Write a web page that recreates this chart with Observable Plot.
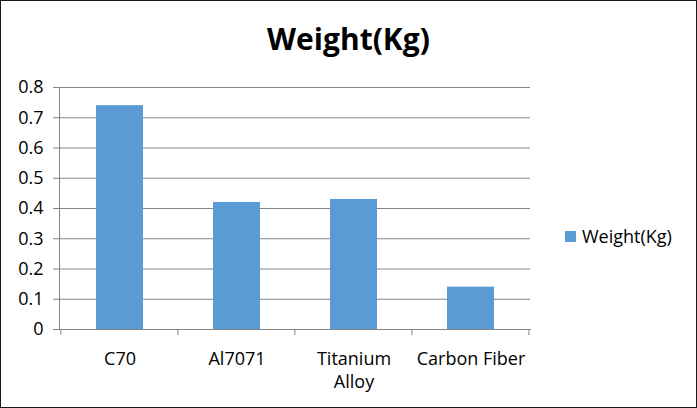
<!DOCTYPE html>
<html>
<head>
<meta charset="utf-8">
<script src="https://cdn.jsdelivr.net/npm/d3@7"></script>
<script src="https://cdn.jsdelivr.net/npm/@observablehq/plot@0.6"></script>
<style>
  html, body { margin: 0; padding: 0; background: #fff; }
  #wrap { position: relative; width: 697px; height: 408px; overflow: hidden; background: #fff; font-family: "Open Sans", sans-serif; }
  #border { position: absolute; left: 0; top: 0; width: 697px; height: 408px; box-sizing: border-box; border: 1px solid #1a1a1a; pointer-events: none; }
  #title { position: absolute; left: 0; width: 697px; top: 19px; text-align: center; font-weight: bold; font-size: 30px; line-height: 40px; color: #000; }
  #legend { position: absolute; left: 565px; top: 224px; font-size: 18px; line-height: 24px; color: #000; display: flex; align-items: center; }
  #legend .sw { display: inline-block; width: 11px; height: 11px; background: #5B9BD5; margin-right: 6px; }
  #chart { position: absolute; left: 0; top: 0; }
</style>
</head>
<body>
<div id="wrap">
  <div id="chart"></div>
  <div id="title">Weight(Kg)</div>
  <div id="legend"><span class="sw"></span><span id="legtext"></span></div>
  <div id="border"></div>
</div>
<script>
const categories = ["C70", "Al7071", "Titanium\nAlloy", "Carbon Fiber"];
const weights = [0.74, 0.42, 0.43, 0.14];
const yTicks = [0, 0.1, 0.2, 0.3, 0.4, 0.5, 0.6, 0.7, 0.8];
const yTickLabels = ["0", "0.1", "0.2", "0.3", "0.4", "0.5", "0.6", "0.7", "0.8"];
const seriesName = "Weight(Kg)";
const barColor = "#5B9BD5";

const data = categories.map((c, i) => ({category: c, value: weights[i]}));
const PAD_INNER = 0.6;

function boundaryTicks(index, scales, values, dimensions) {
  const x = scales.x;
  const x0 = x(categories[0]), x1 = x(categories[1]);
  const step = x1 - x0;
  const yb = dimensions.height - dimensions.marginBottom;
  const g = d3.create("svg:g").attr("stroke", "#868686").attr("stroke-width", 1);
  const bounds = categories.map(c => x(c) - step * PAD_INNER / 2);
  bounds.push(bounds[bounds.length - 1] + step);
  for (const b of bounds) {
    g.append("line").attr("x1", b).attr("x2", b).attr("y1", yb).attr("y2", yb + 6);
  }
  return g.node();
}

const chart = Plot.plot({
  width: 697,
  height: 408,
  marginLeft: 59,
  marginRight: 167,
  marginTop: 87,
  marginBottom: 79,
  style: {fontFamily: "'Open Sans', sans-serif", fontSize: "17px", color: "#000", background: "transparent"},
  x: {domain: categories, paddingInner: PAD_INNER, paddingOuter: 0.3, label: null},
  y: {domain: [0, 0.8], label: null},
  marks: [
    Plot.gridY(yTicks, {stroke: "#868686", strokeOpacity: 1}),
    Plot.barY(data, {x: "category", y: "value", fill: barColor}),
    Plot.axisY({ticks: yTicks, tickFormat: d => yTickLabels[yTicks.indexOf(d)], tickSize: 6, tickPadding: 10, stroke: "#868686", fill: "#000", fontSize: 18, label: null}),
    Plot.axisX({tickSize: 0, tickPadding: 18, fontSize: 18, lineHeight: 1.33, fill: "#000", label: null}),
    Plot.frame({anchor: "left", stroke: "#868686"}),
    Plot.frame({anchor: "bottom", stroke: "#868686"}),
    boundaryTicks
  ]
});
document.getElementById("chart").appendChild(chart);
document.getElementById("legtext").textContent = seriesName;
</script>
</body>
</html>
